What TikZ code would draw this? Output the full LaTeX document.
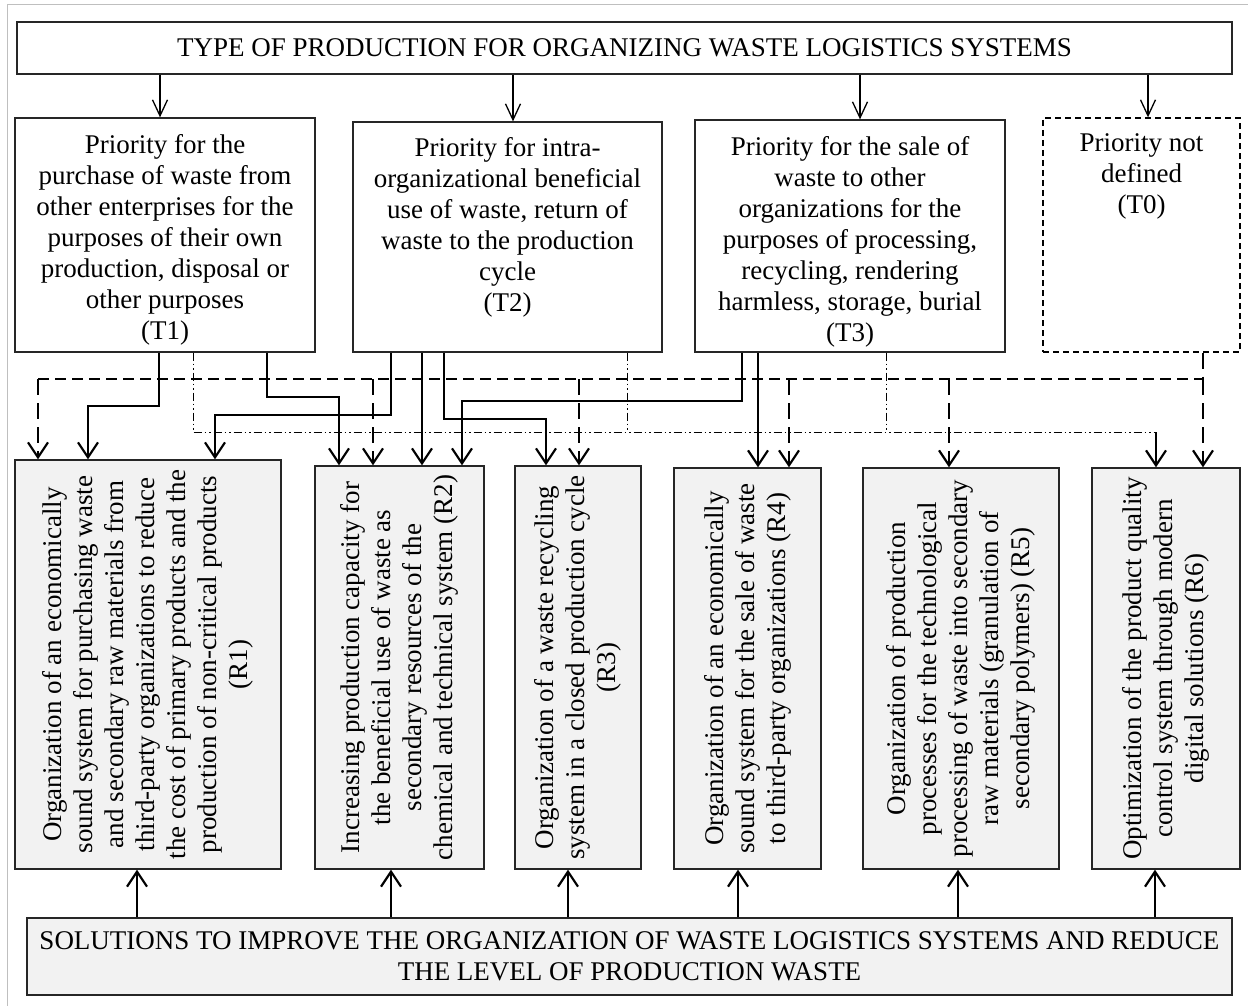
\documentclass[tikz,border=0pt]{standalone}
\usepackage{fontspec}
\setmainfont{Liberation Serif}
\usetikzlibrary{arrows.meta}
\usetikzlibrary{positioning}
\usetikzlibrary{calc}

\tikzset{
  box/.style={draw=black!85,line width=1.3pt,inner sep=0pt,align=center,font=\fontsize{27pt}{31pt}\selectfont},
  rbox/.style={box,fill=black!5,rotate=90},
  tip/.style={-{Straight Barb[length=15pt,width=20pt,line width=2.2pt]}},
  ttip/.style={-{Straight Barb[length=16pt,width=15pt]}},
  bold/.style={line width=2.6pt},
  fine/.style={line width=1.3pt},
  dashbus/.style={line width=1.4pt,dash pattern=on 11pt off 6pt},
  dashdrop/.style={line width=2.6pt,dash pattern=on 16pt off 8pt},
  dotbus/.style={line width=1pt,dash pattern=on 8pt off 3pt on 1.5pt off 3pt on 1.5pt off 3pt},
}

\begin{document}
\begin{tikzpicture}[x=1pt,y=-1pt]
\useasboundingbox (0,0) rectangle (1248,1006);
\draw[black!25,line width=1pt] (7.5,1006) -- (7.5,5) -- (1248,5);

\node[box,minimum width=1215pt,minimum height=52pt] (title) at (624.5,48) {TYPE OF PRODUCTION FOR ORGANIZING WASTE LOGISTICS SYSTEMS};

\node[box,minimum width=300pt,minimum height=234pt] (t1) at (165,235) {};
\node[box,minimum width=309pt,minimum height=230pt] (t2) at (507.5,237) {};
\node[box,minimum width=310pt,minimum height=232pt] (t3) at (850,236) {};
\node[box,draw=black,line width=1.4pt,dash pattern=on 6pt off 4pt,minimum width=197pt,minimum height=234pt] (t0) at (1141.5,235) {};
\node[box,draw=none,anchor=north] (t1txt) at ([yshift=-16pt]t1.north) {Priority for the\\purchase of waste from\\other enterprises for the\\purposes of their own\\production, disposal or\\other purposes\\(T1)};
\node[box,draw=none,anchor=north] (t2txt) at ([yshift=-15pt]t2.north) {Priority for intra-\\organizational beneficial\\use of waste, return of\\waste to the production\\cycle\\(T2)};
\node[box,draw=none,anchor=north] (t3txt) at ([yshift=-16pt]t3.north) {Priority for the sale of\\waste to other\\organizations for the\\purposes of processing,\\recycling, rendering\\harmless, storage, burial\\(T3)};
\node[box,draw=none,anchor=north] (t0txt) at ([yshift=-16pt]t0.north) {Priority not\\defined\\(T0)};

\node[rbox,minimum width=409pt,minimum height=266pt] (r1) at (148,664.5) {Organization of an economically\\sound system for purchasing waste\\and secondary raw materials from\\third-party organizations to reduce\\the cost of primary products and the\\production of non-critical products\\(R1)};
\node[rbox,minimum width=403pt,minimum height=169pt] (r2) at (399.5,667.5) {Increasing production capacity for\\the beneficial use of waste as\\secondary resources of the\\chemical and technical system (R2)};
\node[rbox,minimum width=403pt,minimum height=126pt] (r3) at (578,667.5) {Organization of a waste recycling\\system in a closed production cycle\\(R3)};
\node[rbox,minimum width=401pt,minimum height=147pt] (r4) at (747.5,668.5) {Organization of an economically\\sound system for the sale of waste\\to third-party organizations (R4)};
\node[rbox,minimum width=401pt,minimum height=196pt] (r5) at (961,668.5) {Organization of production\\processes for the technological\\processing of waste into secondary\\raw materials (granulation of\\secondary polymers) (R5)};
\node[rbox,minimum width=401pt,minimum height=148pt] (r6) at (1166,668.5) {Optimization of the product quality\\control system through modern\\digital solutions (R6)};

\node[box,fill=black!5,minimum width=1205pt,minimum height=77pt] (sol) at (629.5,956.5) {SOLUTIONS TO IMPROVE THE ORGANIZATION OF WASTE LOGISTICS SYSTEMS AND REDUCE\\THE LEVEL OF PRODUCTION WASTE};

\begin{scope}[fine,ttip]
\draw (title.south -| 160,0) -- (t1.north -| 160,0);
\draw (title.south -| 513,0) -- (t2.north -| 513,0);
\draw (title.south -| 860,0) -- (t3.north -| 860,0);
\draw (title.south -| 1148,0) -- (t0.north -| 1148,0);
\end{scope}

\coordinate (dbus) at (0,379);
\coordinate (cbus) at (0,432);
\draw[dotbus] (t1.south -| 193,0) |- (cbus -| 1156,0);
\draw[dotbus] (t2.south -| 627,0) -- (cbus -| 627,0);
\draw[dotbus] (t3.south -| 886,0) -- (cbus -| 886,0);
\draw[dashdrop] (t0.south -| 1203,0) -- (dbus -| 1203,0);
\draw[dashbus] (dbus -| 38,0) -- (dbus -| 1203,0);

\begin{scope}[tip]
\draw[bold] (t1.south -| 159,0) |- (88,406) -- (r1.east -| 88,0);
\draw[bold] (t1.south -| 267,0) |- (339,397) -- (r2.east -| 339,0);
\draw[bold] (t2.south -| 422,0) -- (r2.east -| 422,0);
\draw[bold] (t2.south -| 444,0) |- (546,419) -- (r3.east -| 546,0);
\draw[bold] (t3.south -| 758,0) -- (r4.east -| 758,0);
\draw[fine] (t2.south -| 391,0) |- (215,415) -- (r1.east -| 215,0);
\draw[fine] (t3.south -| 742,0) |- (462,401) -- (r2.east -| 462,0);
\draw[fine] (cbus -| 1156,0) -- (r6.east -| 1156,0);
\draw[dashdrop] (dbus -| 38,0) -- (r1.east -| 38,0);
\draw[dashdrop] (dbus -| 373,0) -- (r2.east -| 373,0);
\draw[dashdrop] (dbus -| 579,0) -- (r3.east -| 579,0);
\draw[dashdrop] (dbus -| 789,0) -- (r4.east -| 789,0);
\draw[dashdrop] (dbus -| 949,0) -- (r5.east -| 949,0);
\draw[dashdrop] (dbus -| 1203,0) -- (r6.east -| 1203,0);
\end{scope}

\begin{scope}[line width=2.2pt,tip]
\draw (sol.north -| 137,0) -- (r1.west -| 137,0);
\draw (sol.north -| 391,0) -- (r2.west -| 391,0);
\draw (sol.north -| 568,0) -- (r3.west -| 568,0);
\draw (sol.north -| 738,0) -- (r4.west -| 738,0);
\draw (sol.north -| 958,0) -- (r5.west -| 958,0);
\draw (sol.north -| 1155,0) -- (r6.west -| 1155,0);
\end{scope}
\end{tikzpicture}
\end{document}
